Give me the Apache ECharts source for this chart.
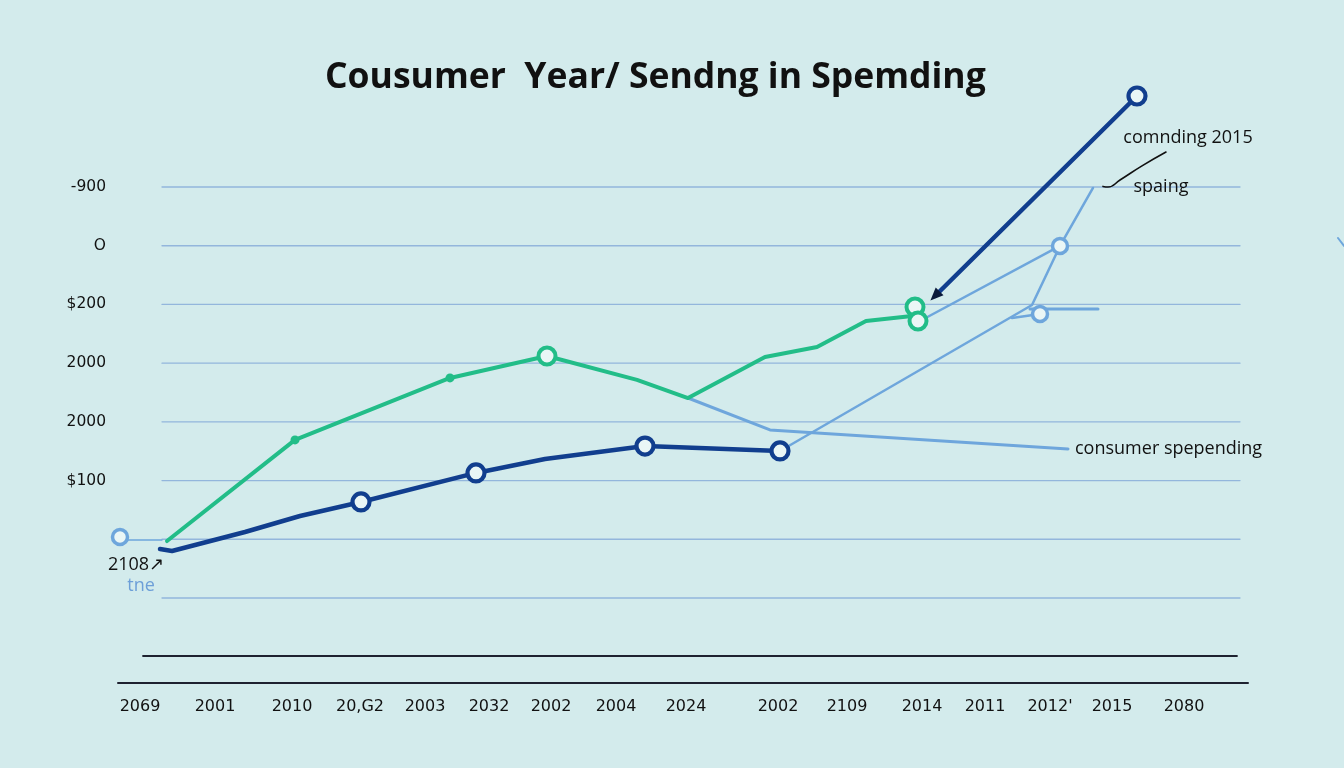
<!DOCTYPE html>
<html><head><meta charset="utf-8">
<script src="https://cdn.jsdelivr.net/npm/echarts@6/dist/echarts.min.js"></script>
<style>html,body{margin:0;padding:0;background:#d3ebec}#c{width:1344px;height:768px}</style>
</head><body><div id="c"></div>
<script>
// ---- data ----
const xTickLabels = ['2069','2001','2010','20,G2','2003','2032','2002','2004','2024','2002','2109','2014','2011','2012\'','2015','2080'];
const xTickPos = [-2.2, 5.3, 13.0, 19.8, 26.3, 32.7, 38.9, 45.4, 52.4, 61.6, 68.5, 76.0, 82.3, 88.8, 95.0, 102.2];
const yTickLabels = ['', '', '$100', '2000', '2000', '$200', 'O', '-900'];
const gridLevels = [0, 500, 1000, 1500, 2000, 2500, 3000, 3500];

const greenX = [0.5, 13.3, 28.8, 38.5, 47.5, 52.6, 60.3, 65.5, 70.4, 75.0, 75.6];
const greenY = [485, 1346, 1874, 2061, 1857, 1703, 2052, 2138, 2359, 2402, 2359];
const greenRings = [[38.5, 2061], [75.3, 2478], [75.6, 2359]];
const greenDots = [[13.3, 1346], [28.8, 1874]];

const navyX = [-0.2, 1.0, 8.3, 13.8, 19.9, 31.4, 38.3, 48.3, 61.8];
const navyY = [417, 400, 562, 698, 818, 1065, 1184, 1294, 1252];
const navyArrowLine = [[77.3, 2572], [97.5, 4275]];
const navyRings = [[19.9, 818], [31.4, 1065], [48.3, 1294], [61.8, 1252], [97.5, 4275]];

const lightLine1 = [[52.6, 1703], [60.8, 1431], [90.6, 1269]];
const lightLine2 = [[61.8, 1252], [87.0, 2495], [89.8, 2998], [93.1, 3492]];
const lightLine3 = [[75.8, 2359], [89.8, 2998]];
const lightLine4 = [[85.0, 2384], [87.8, 2419]];
const lightLine5 = [[86.8, 2461], [93.6, 2461]];
const lightStub = [[-3.4, 494], [0, 494]];
const lightRings = [[89.8, 2998], [87.8, 2419], [-4.2, 519]];
const rightTick = [[117.6, 3066], [118.2, 2998]];

const calloutCurve = [[100.4, 3798], [98.0, 3680], [95.8, 3560], [94.6, 3500], [94.1, 3505]];
const baseLine1 = [[-1.9, -494], [107.5, -494]];
const baseLine2 = [[-4.4, -724], [108.6, -724]];
const xLabelY = -928;

const annotations = [
  {text: 'consumer spepending', at: [91.3, 1269], align: 'left', color: '#111'},
  {text: 'comnding 2015', at: [102.6, 3917], align: 'center', color: '#111'},
  {text: 'spaing', at: [99.9, 3500], align: 'center', color: '#111'},
  {text: '2108\u2197', at: [-2.6, 281], align: 'center', color: '#111'},
  {text: 'tne', at: [-2.1, 102], align: 'center', color: '#6d9fd8'}
];

// ---- styles ----
const GREEN = '#22bd88', NAVY = '#113e8e', LIGHT = '#6ea6dc', GRID = '#93b6dc';
const zip = (xs, ys) => xs.map((x, i) => [x, ys[i]]);

function line(data, color, width, extra) {
  return Object.assign({type: 'line', data, symbol: 'none', clip: false, silent: true,
    lineStyle: {color, width, cap: 'round', join: 'round'}, z: 3}, extra || {});
}
function rings(data, color, size, bw, z) {
  return {type: 'scatter', data, clip: false, silent: true, symbol: 'circle', symbolSize: size, z: z || 5,
    itemStyle: {color: '#eaf6f6', borderColor: color, borderWidth: bw, opacity: 1}};
}

const chart = echarts.init(document.getElementById('c'));
chart.setOption({
  backgroundColor: '#d3ebec',
  animation: false,
  title: {text: 'Cousumer  Year/ Sendng in Spemding', left: 320, top: 55,
    textStyle: {fontFamily: 'Open Sans', fontWeight: 'bold', fontSize: 35.5, color: '#111'}},
  grid: {left: 110, right: 0, top: 69.6, bottom: 52.6},
  xAxis: {type: 'value', min: -5.2, max: 118.2, show: false},
  yAxis: {type: 'value', min: -1000, max: 4500, interval: 500,
    axisLine: {show: false}, axisTick: {show: false}, splitLine: {show: false},
    axisLabel: {margin: 4, fontFamily: 'DejaVu Sans', fontSize: 15.5, color: '#111',
      formatter: v => (v >= 0 ? yTickLabels[Math.round(v / 500)] : '') || ''}},
  series: [
    ...gridLevels.map(v => line([[0, v], [107.8, v]], GRID, 1.3, {z: 1})),
    line(baseLine1, '#1e2230', 1.8),
    line(baseLine2, '#1e2230', 2),
    line(lightStub, LIGHT, 1.3),
    line(lightLine1, LIGHT, 3),
    line(lightLine2, LIGHT, 2.5),
    line(lightLine3, LIGHT, 2.5),
    line(lightLine4, LIGHT, 2.5),
    line(lightLine5, LIGHT, 3),
    line(rightTick, LIGHT, 2),
    line(zip(greenX, greenY), GREEN, 4, {z: 4}),
    line(zip(navyX, navyY), NAVY, 4.5, {z: 4}),
    line(navyArrowLine, NAVY, 4.5, {z: 4}),
    {type: 'scatter', data: [navyArrowLine[0]], clip: false, silent: true, symbol: 'triangle',
      symbolSize: [11, 13], symbolRotate: 135, itemStyle: {color: '#0b1a3a', opacity: 1}, z: 6},
    line(calloutCurve, '#111', 1.6, {smooth: true, z: 6}),
    {type: 'scatter', data: greenDots, clip: false, silent: true, symbol: 'circle', symbolSize: 9,
      itemStyle: {color: GREEN, opacity: 1}, z: 5},
    rings(greenRings, GREEN, 17, 4),
    rings(navyRings, NAVY, 17, 4.2, 6),
    rings(lightRings, LIGHT, 15, 3.5),
    {type: 'scatter', clip: false, silent: true, symbolSize: 0, z: 7,
      itemStyle: {opacity: 1},
      data: xTickPos.map((x, i) => ({value: [x, xLabelY], name: xTickLabels[i]})),
      label: {show: true, position: 'inside', formatter: p => p.name,
        fontFamily: 'DejaVu Sans', fontSize: 16, color: '#111'}},
    {type: 'scatter', clip: false, silent: true, symbolSize: 0, z: 7,
      itemStyle: {opacity: 1},
      data: annotations.map(a => ({value: a.at, name: a.text,
        label: {align: a.align, color: a.color}})),
      label: {show: true, position: 'inside', formatter: p => p.name,
        fontFamily: 'Open Sans', fontSize: 18}}
  ]
});
</script></body></html>
